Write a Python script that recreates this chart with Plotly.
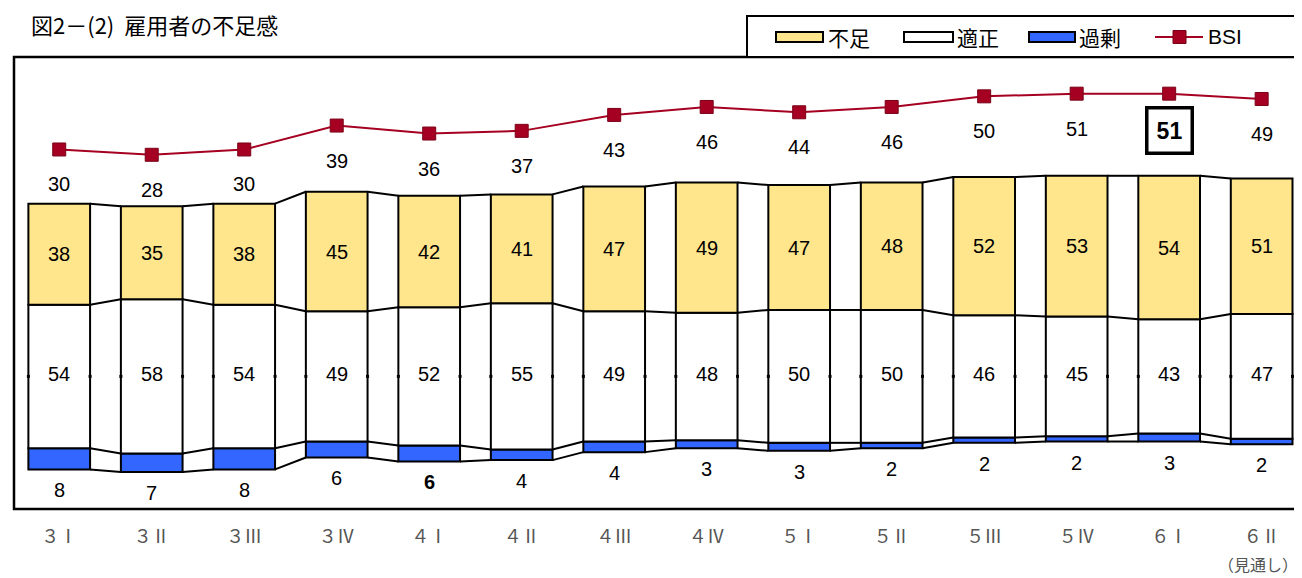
import plotly.graph_objects as go

# ---- data ----
categories = ["３Ⅰ", "３Ⅱ", "３Ⅲ", "３Ⅳ", "４Ⅰ", "４Ⅱ", "４Ⅲ", "４Ⅳ",
              "５Ⅰ", "５Ⅱ", "５Ⅲ", "５Ⅳ", "６Ⅰ", "６Ⅱ"]
shortage = [38, 35, 38, 45, 42, 41, 47, 49, 47, 48, 52, 53, 54, 51]   # 不足
adequate = [54, 58, 54, 49, 52, 55, 49, 48, 50, 50, 46, 45, 43, 47]   # 適正
excess = [8, 7, 8, 6, 6, 4, 4, 3, 3, 2, 2, 2, 3, 2]                  # 過剰
bsi = [30, 28, 30, 39, 36, 37, 43, 46, 44, 46, 50, 51, 51, 49]        # BSI

YELLOW = "#FFE68C"
BLUE = "#3366FF"
RED = "#A50021"
LABEL_FONT = dict(family="Liberation Sans, Arial, sans-serif", size=20, color="#000000")
JP_FONT = "Noto Sans CJK JP, sans-serif"

n = len(categories)
x = list(range(n))
W = 0.667

# bars are centred on the middle of the 適正 segment
base_adequate = [-a / 2 for a in adequate]
base_excess = [-a / 2 - e for a, e in zip(adequate, excess)]
base_shortage = [a / 2 for a in adequate]

fig = go.Figure()
outline = dict(color="#000000", width=2)
fig.add_trace(go.Bar(x=x, y=excess, base=base_excess, width=W,
                     marker=dict(color=BLUE, line=outline), name="過剰"))
fig.add_trace(go.Bar(x=x, y=adequate, base=base_adequate, width=W,
                     marker=dict(color="#FFFFFF", line=outline), name="適正"))
fig.add_trace(go.Bar(x=x, y=shortage, base=base_shortage, width=W,
                     marker=dict(color=YELLOW, line=outline), name="不足"))

# series lines connecting the bars
bounds = [
    [a / 2 + s for a, s in zip(adequate, shortage)],
    base_shortage,
    base_adequate,
    base_excess,
]
for b in bounds:
    xs, ys = [], []
    for i in range(n - 1):
        xs += [i + W / 2, i + 1 - W / 2, None]
        ys += [b[i], b[i + 1], None]
    fig.add_trace(go.Scatter(x=xs, y=ys, mode="lines",
                             line=dict(color="#000000", width=2),
                             hoverinfo="skip"))

# small dots at the centre line on the bar edges
dx, dy = [], []
for i in range(n):
    dx += [i - W / 2, i + W / 2]
    dy += [0, 0]
fig.add_trace(go.Scatter(x=dx, y=dy, mode="markers",
                         marker=dict(color="#000000", size=3, symbol="square")))

# BSI line
fig.add_trace(go.Scatter(x=x, y=bsi, yaxis="y2", mode="lines+markers",
                         line=dict(color=RED, width=2),
                         marker=dict(symbol="square", size=13, color=RED,
                                     line=dict(color="#7A0018", width=1)),
                         name="BSI"))

annotations = []
for i in range(n):
    annotations.append(dict(x=i, y=base_shortage[i] + shortage[i] / 2, text=str(shortage[i]),
                            showarrow=False, font=LABEL_FONT))
    annotations.append(dict(x=i, y=0, text=str(adequate[i]), showarrow=False,
                            font=LABEL_FONT, yshift=2))
    t = f"<b>{excess[i]}</b>" if i == 4 else str(excess[i])
    annotations.append(dict(x=i, y=base_excess[i], text=t, showarrow=False,
                            font=LABEL_FONT, yshift=-21))
    if i == 12:
        annotations.append(dict(x=i, y=bsi[i], yref="y2", text=f"<b>{bsi[i]}</b>",
                                showarrow=False, yshift=-37,
                                font=dict(family="Liberation Sans, Arial, sans-serif", size=23, color="#000"),
                                bordercolor="#000000", borderwidth=3.5, borderpad=5,
                                bgcolor="#FFFFFF", width=32, height=32))
    else:
        annotations.append(dict(x=i, y=bsi[i], yref="y2", text=str(bsi[i]),
                                showarrow=False, yshift=-35, font=LABEL_FONT))

# page offset (browser body margin)
OFF = 8
PL, PR, PT, PB = 14, 1298, 57, 509   # plot box in window pixels


def px_x(p):
    return (p - PL) / (PR - PL)


def px_y(p):
    return (PB - p) / (PB - PT)


# title
annotations.append(dict(xref="paper", yref="paper", x=px_x(29), y=px_y(24), xanchor="left",
                        yanchor="middle", text="図2－(2)  雇用者の不足感", showarrow=False,
                        font=dict(family=JP_FONT, size=22, color="#000")))
# 見通し
annotations.append(dict(xref="paper", yref="paper", x=px_x(1258), y=px_y(564), text="（見通し）",
                        showarrow=False, xanchor="center", yanchor="middle",
                        font=dict(family=JP_FONT, size=16, color="#555555")))

shapes = []
shapes.append(dict(type="rect", xref="paper", yref="paper", x0=0, x1=1, y0=0, y1=1,
                   line=dict(color="#000000", width=2.5), fillcolor="rgba(0,0,0,0)", layer="above"))
shapes.append(dict(type="rect", xref="paper", yref="paper", x0=px_x(747), x1=px_x(1301),
                   y0=1, y1=px_y(16), line=dict(color="#000000", width=2), fillcolor="#FFFFFF"))
leg_cy = 37
swatches = [(776, 823, YELLOW, "不足", 826), (904, 953, "#FFFFFF", "適正", 955),
            (1029, 1075, BLUE, "過剰", 1077)]
for x0, x1, col, label, tx in swatches:
    shapes.append(dict(type="rect", xref="paper", yref="paper", x0=px_x(x0), x1=px_x(x1),
                       y0=px_y(leg_cy + 5), y1=px_y(leg_cy - 5),
                       line=dict(color="#000000", width=2), fillcolor=col))
    annotations.append(dict(xref="paper", yref="paper", x=px_x(tx), y=px_y(leg_cy),
                            xanchor="left", yanchor="middle", text=label, showarrow=False,
                            font=dict(family=JP_FONT, size=21, color="#000")))
shapes.append(dict(type="line", xref="paper", yref="paper", x0=px_x(1155), x1=px_x(1203),
                   y0=px_y(leg_cy), y1=px_y(leg_cy), line=dict(color=RED, width=2)))
shapes.append(dict(type="rect", xref="paper", yref="paper", x0=px_x(1173), x1=px_x(1186),
                   y0=px_y(leg_cy + 6.5), y1=px_y(leg_cy - 6.5),
                   line=dict(color="#7A0018", width=1), fillcolor=RED))
annotations.append(dict(xref="paper", yref="paper", x=px_x(1206), y=px_y(leg_cy),
                        xanchor="left", yanchor="middle", text="BSI", showarrow=False,
                        font=dict(family="Liberation Sans, Arial, sans-serif", size=21, color="#000")))

FW, FH = 1302 - OFF, 578 - OFF
fig.update_layout(
    width=FW, height=FH,
    margin=dict(l=PL - OFF, r=OFF + FW - PR, t=PT - OFF, b=OFF + FH - PB, pad=0),
    paper_bgcolor="#FFFFFF", plot_bgcolor="#FFFFFF",
    barmode="overlay", showlegend=False,
    xaxis=dict(range=[-0.489, 13.393], tickvals=x, ticktext=categories,
               showgrid=False, zeroline=False, showline=False, ticks="",
               ticklabelstandoff=15,
               tickfont=dict(family=JP_FONT, size=18, color="#555555")),
    yaxis=dict(range=[-49.9, 120.2], visible=False, showgrid=False, zeroline=False),
    yaxis2=dict(range=[-105.3, 64.8], overlaying="y", side="right", visible=False,
                showgrid=False, zeroline=False),
    shapes=shapes, annotations=annotations,
)

fig.write_html("out.html")
